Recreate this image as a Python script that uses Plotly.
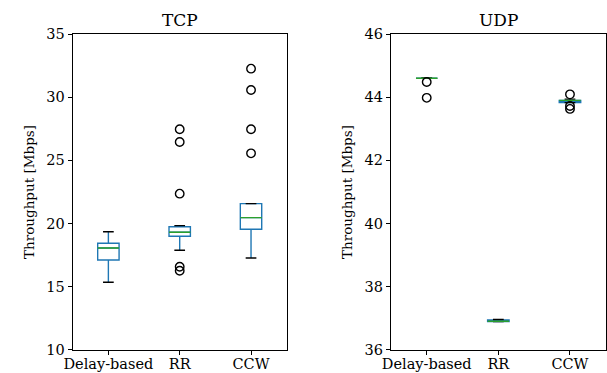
import plotly.graph_objects as go

categories = ["Delay-based", "RR", "CCW"]
positions = [1, 2, 3]

# TCP stats
tcp_q1 = [17.12, 19.00, 19.55]
tcp_med = [18.07, 19.31, 20.47]
tcp_q3 = [18.44, 19.75, 21.58]
tcp_lo = [15.36, 17.89, 17.28]
tcp_hi = [19.36, 19.84, 21.58]
tcp_out = [[], [27.46, 26.46, 22.37, 16.59, 16.27], [32.26, 30.57, 27.46, 25.56]]

# UDP stats
udp_q1 = [44.60, 36.90, 43.83]
udp_med = [44.60, 36.91, 43.90]
udp_q3 = [44.60, 36.95, 43.90]
udp_lo = [44.60, 36.90, 43.83]
udp_hi = [44.60, 36.97, 43.94]
udp_out = [[44.48, 43.98], [], [44.09, 43.72, 43.63]]

tcp_ticks = [10, 15, 20, 25, 30, 35]
udp_ticks = [36, 38, 40, 42, 44, 46]

BLUE = "#1f77b4"
GREEN = "#2ca02c"
FONT = "DejaVu Serif"
BW = 0.3

fig = go.Figure()

def add_panel(q1, med, q3, lo, hi, out, xa, ya):
    for i, p in enumerate(positions):
        fig.add_trace(go.Box(
            x=[p], q1=[q1[i]], median=[med[i]], q3=[q3[i]],
            lowerfence=[lo[i]], upperfence=[hi[i]],
            width=BW, whiskerwidth=0, boxpoints=False,
            line=dict(color=BLUE, width=1.4), fillcolor="rgba(0,0,0,0)",
            xaxis=xa, yaxis=ya, showlegend=False, hoverinfo="skip"))
    # caps
    cx, cy = [], []
    for i, p in enumerate(positions):
        for v in (lo[i], hi[i]):
            cx += [p - BW / 4, p + BW / 4, None]
            cy += [v, v, None]
    fig.add_trace(go.Scatter(x=cx, y=cy, mode="lines", line=dict(color="black", width=1.4),
                             xaxis=xa, yaxis=ya, showlegend=False, hoverinfo="skip"))
    # medians
    mx, my = [], []
    for i, p in enumerate(positions):
        mx += [p - BW / 2, p + BW / 2, None]
        my += [med[i], med[i], None]
    fig.add_trace(go.Scatter(x=mx, y=my, mode="lines", line=dict(color=GREEN, width=1.4),
                             xaxis=xa, yaxis=ya, showlegend=False, hoverinfo="skip"))
    # outliers
    ox, oy = [], []
    for i, p in enumerate(positions):
        for v in out[i]:
            ox.append(p)
            oy.append(v)
    fig.add_trace(go.Scatter(x=ox, y=oy, mode="markers",
                             marker=dict(symbol="circle-open", size=8.5, color="black", line=dict(width=1.4)),
                             xaxis=xa, yaxis=ya, showlegend=False, hoverinfo="skip"))

add_panel(tcp_q1, tcp_med, tcp_q3, tcp_lo, tcp_hi, tcp_out, "x", "y")
add_panel(udp_q1, udp_med, udp_q3, udp_lo, udp_hi, udp_out, "x2", "y2")

xcommon = dict(range=[0.5, 3.5], tickvals=positions, ticktext=categories, automargin=False,
               showline=True, mirror=True, linecolor="black", linewidth=1,
               ticks="outside", ticklen=4, tickcolor="black", showgrid=False, zeroline=False,
               ticklabelstandoff=-3,
               tickfont=dict(family=FONT, size=14.5, color="black"))
ycommon = dict(showline=True, mirror=True, linecolor="black", linewidth=1, automargin=False,
               ticks="outside", ticklen=4, tickcolor="black", showgrid=False, zeroline=False,
               tickfont=dict(family=FONT, size=14.5, color="black"),
               title=dict(text="Throughput [Mbps]", font=dict(family=FONT, size=13.5, color="black"), standoff=8))

fig.update_layout(
    width=607, height=373,
    margin=dict(l=0, r=0, t=0, b=0),
    plot_bgcolor="white", paper_bgcolor="white",
    xaxis=dict(domain=[0.1198, 0.4723], anchor="y", **xcommon),
    yaxis=dict(domain=[0.0617, 0.9088], anchor="x", range=[10, 35], tickvals=tcp_ticks, **ycommon),
    xaxis2=dict(domain=[0.644, 0.998], anchor="y2", **xcommon),
    yaxis2=dict(domain=[0.0617, 0.9088], anchor="x2", range=[36, 46], tickvals=udp_ticks, **ycommon),
    annotations=[
        dict(text="TCP", x=0.296, y=0.946, xref="paper", yref="paper", showarrow=False,
             xanchor="center", yanchor="middle",
             font=dict(family=FONT, size=17, color="black")),
        dict(text="UDP", x=0.821, y=0.946, xref="paper", yref="paper", showarrow=False,
             xanchor="center", yanchor="middle",
             font=dict(family=FONT, size=17, color="black")),
    ],
)

fig.write_html("out.html")
